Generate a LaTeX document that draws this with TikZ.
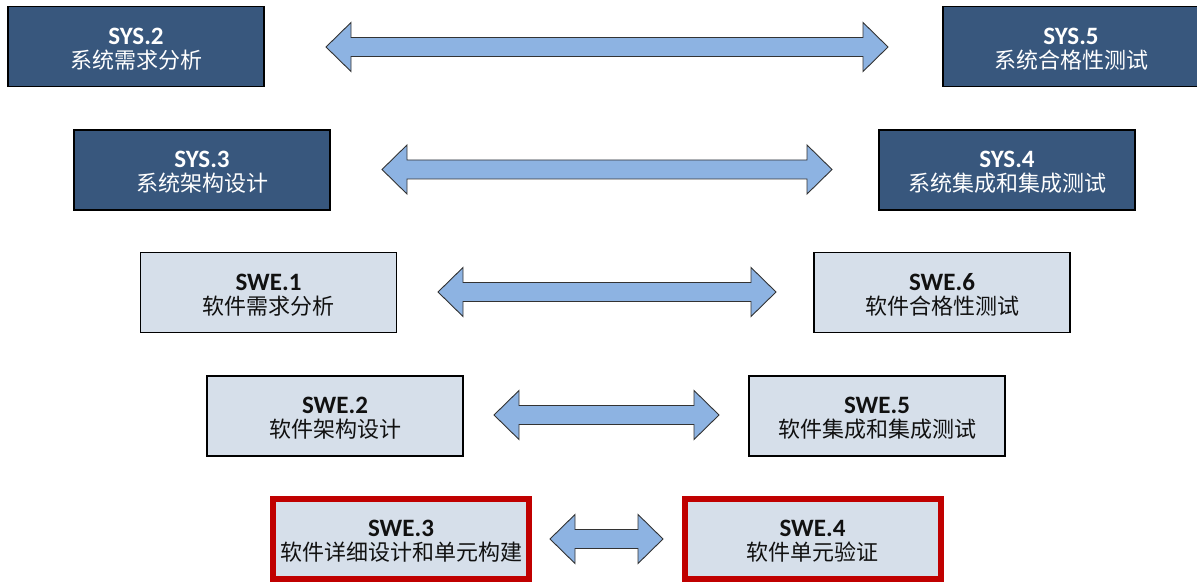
\documentclass[tikz,border=0pt]{standalone}
\usepackage{fontspec}
\setmainfont{Carlito}
\newfontfamily\cjk{Noto Sans CJK SC}
\definecolor{darkbox}{HTML}{38577D}
\definecolor{lightbox}{HTML}{D6DFEA}
\definecolor{arrfill}{HTML}{8DB3E2}
\definecolor{redline}{HTML}{C00000}
\definecolor{txtdark}{HTML}{111111}
\newcommand\boxtext[2]{\rule{0pt}{21pt}{\fontsize{25}{24}\selectfont\bfseries #1}\\{\cjk #2}}
\tikzset{
  box/.style={rectangle, minimum width=256pt, minimum height=80pt, inner sep=0pt,
    align=center, font=\fontsize{22}{24}\selectfont, draw=black, line width=1.3pt},
  sysbox/.style={box, fill=darkbox, text=white},
  swebox/.style={box, fill=lightbox, text=txtdark},
  focusbox/.style={box, fill=lightbox, text=txtdark, draw=redline, line width=6pt},
  arrowshape/.style={fill=arrfill, draw=black!80, line width=0.9pt, line join=miter}
}
\newcommand\dblarr[3]{%
  \draw[arrowshape] (#1,#3) -- ++(25,24.5) -- ++(0,-15) -- ({#2-25},{#3+9.5}) -- ++(0,15)
    -- (#2,#3) -- ++(-25,-24.5) -- ++(0,15) -- ({#1+25},{#3-9.5}) -- ++(0,-15) -- cycle;}
\begin{document}
\begin{tikzpicture}[x=1pt,y=1pt]
\useasboundingbox (0,0) rectangle (1197,582);
% row 1
\node[sysbox] (sys2) at (136,535.5) {\boxtext{SYS.2}{系统需求分析}};
\node[sysbox] (sys5) at (1071,535.5) {\boxtext{SYS.5}{系统合格性测试}};
% row 2
\node[sysbox] (sys3) at (202,412) {\boxtext{SYS.3}{系统架构设计}};
\node[sysbox] (sys4) at (1007,412) {\boxtext{SYS.4}{系统集成和集成测试}};
% row 3
\node[swebox] (swe1) at (268.5,289.5) {\boxtext{SWE.1}{软件需求分析}};
\node[swebox] (swe6) at (942,289.5) {\boxtext{SWE.6}{软件合格性测试}};
% row 4
\node[swebox] (swe2) at (335,166) {\boxtext{SWE.2}{软件架构设计}};
\node[swebox] (swe5) at (877,166) {\boxtext{SWE.5}{软件集成和集成测试}};
% row 5
\node[focusbox] (swe3) at (401,43.5) {\boxtext{SWE.3}{软件详细设计和单元构建}};
\node[focusbox] (swe4) at (812.5,43.5) {\boxtext{SWE.4}{软件单元验证}};
% arrows
\dblarr{326}{888}{535}
\dblarr{382}{832}{412.5}
\dblarr{438}{776}{290}
\dblarr{494}{719}{167}
\dblarr{550}{663}{43}
\end{tikzpicture}
\end{document}
